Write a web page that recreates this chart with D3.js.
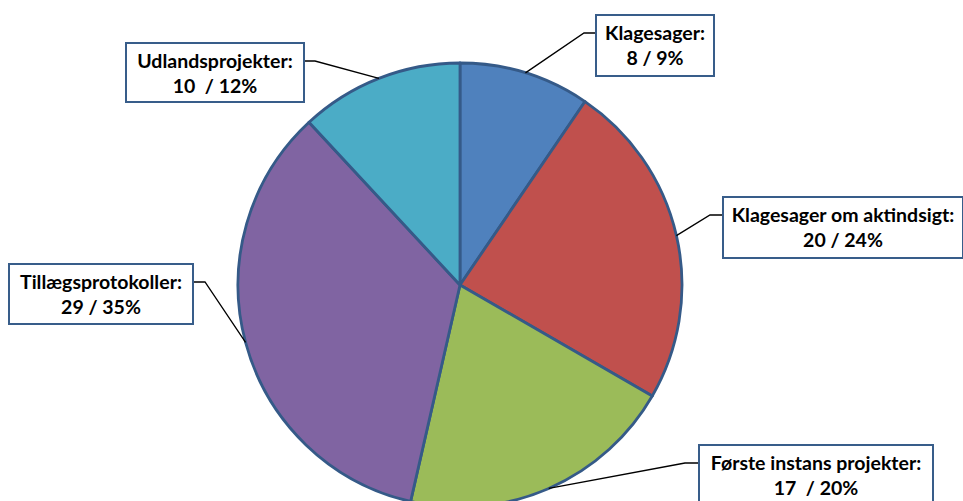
<!DOCTYPE html>
<html><head><meta charset="utf-8">
<script src="https://cdn.jsdelivr.net/npm/d3@7"></script>
<style>body{margin:0;background:#fff}svg{display:block}</style>
</head><body>
<svg id="c" width="963" height="501"></svg>
<script>
const categories = ["Klagesager", "Klagesager om aktindsigt", "Første instans projekter", "Tillægsprotokoller", "Udlandsprojekter"];
const values = [8, 20, 17, 29, 10];
const percents = ["9%", "24%", "20%", "35%", "12%"];
const valueLabels = ["8 / 9%", "20 / 24%", "17  / 20%", "29 / 35%", "10  / 12%"];
const colors = ["#4F81BD", "#C0504D", "#9BBB59", "#8064A2", "#4BACC6"];

// label box layout: x, y, w, h, elbow x (where the leader meets the box side)
const boxes = [
  {x:596, y:15, w:118, h:61, ex:584, side:"left"},
  {x:723, y:197, w:240, h:61, ex:710, side:"left"},
  {x:699, y:445, w:234, h:61, ex:685, side:"left"},
  {x:9, y:264, w:184, h:60, ex:205, side:"right"},
  {x:126, y:43, w:178, h:59, ex:315, side:"right"}
];

const svg = d3.select("#c");
const cx = 460, cy = 285, R = 222;
const pie = d3.pie().sort(null).value(d => d)(values);
const arc = d3.arc().innerRadius(0).outerRadius(R);
const g = svg.append("g").attr("transform", `translate(${cx},${cy})`);
g.selectAll("path").data(pie).join("path")
  .attr("d", arc)
  .attr("fill", (d,i) => colors[i])
  .attr("stroke", "#355a88")
  .attr("stroke-width", 2.8)
  .attr("stroke-linejoin", "round");

// leader lines
pie.forEach((d, i) => {
  const a = (d.startAngle + d.endAngle) / 2;
  const px = cx + R * Math.sin(a), py = cy - R * Math.cos(a);
  const b = boxes[i];
  const ly = b.y + 18;
  const bx = b.side === "left" ? b.x : b.x + b.w;
  svg.append("polyline")
    .attr("points", `${px},${py} ${b.ex},${ly} ${bx},${ly}`)
    .attr("fill", "none").attr("stroke", "#000").attr("stroke-width", 1.3);
});

// label boxes
boxes.forEach((b, i) => {
  svg.append("rect").attr("x", b.x).attr("y", b.y).attr("width", b.w).attr("height", b.h)
    .attr("fill", "#fff").attr("stroke", "#385D8A").attr("stroke-width", 2);
  const t = svg.append("text").attr("text-anchor", "middle")
    .attr("font-family", "Lato, 'Open Sans', sans-serif").attr("font-weight", "bold")
    .attr("font-size", 19.5).attr("fill", "#000").attr("xml:space", "preserve");
  t.append("tspan").attr("x", b.x + b.w/2).attr("y", b.y + 25).text(categories[i] + ":");
  t.append("tspan").attr("x", b.x + b.w/2).attr("y", b.y + 50).text(valueLabels[i]);
});
</script>
</body></html>
